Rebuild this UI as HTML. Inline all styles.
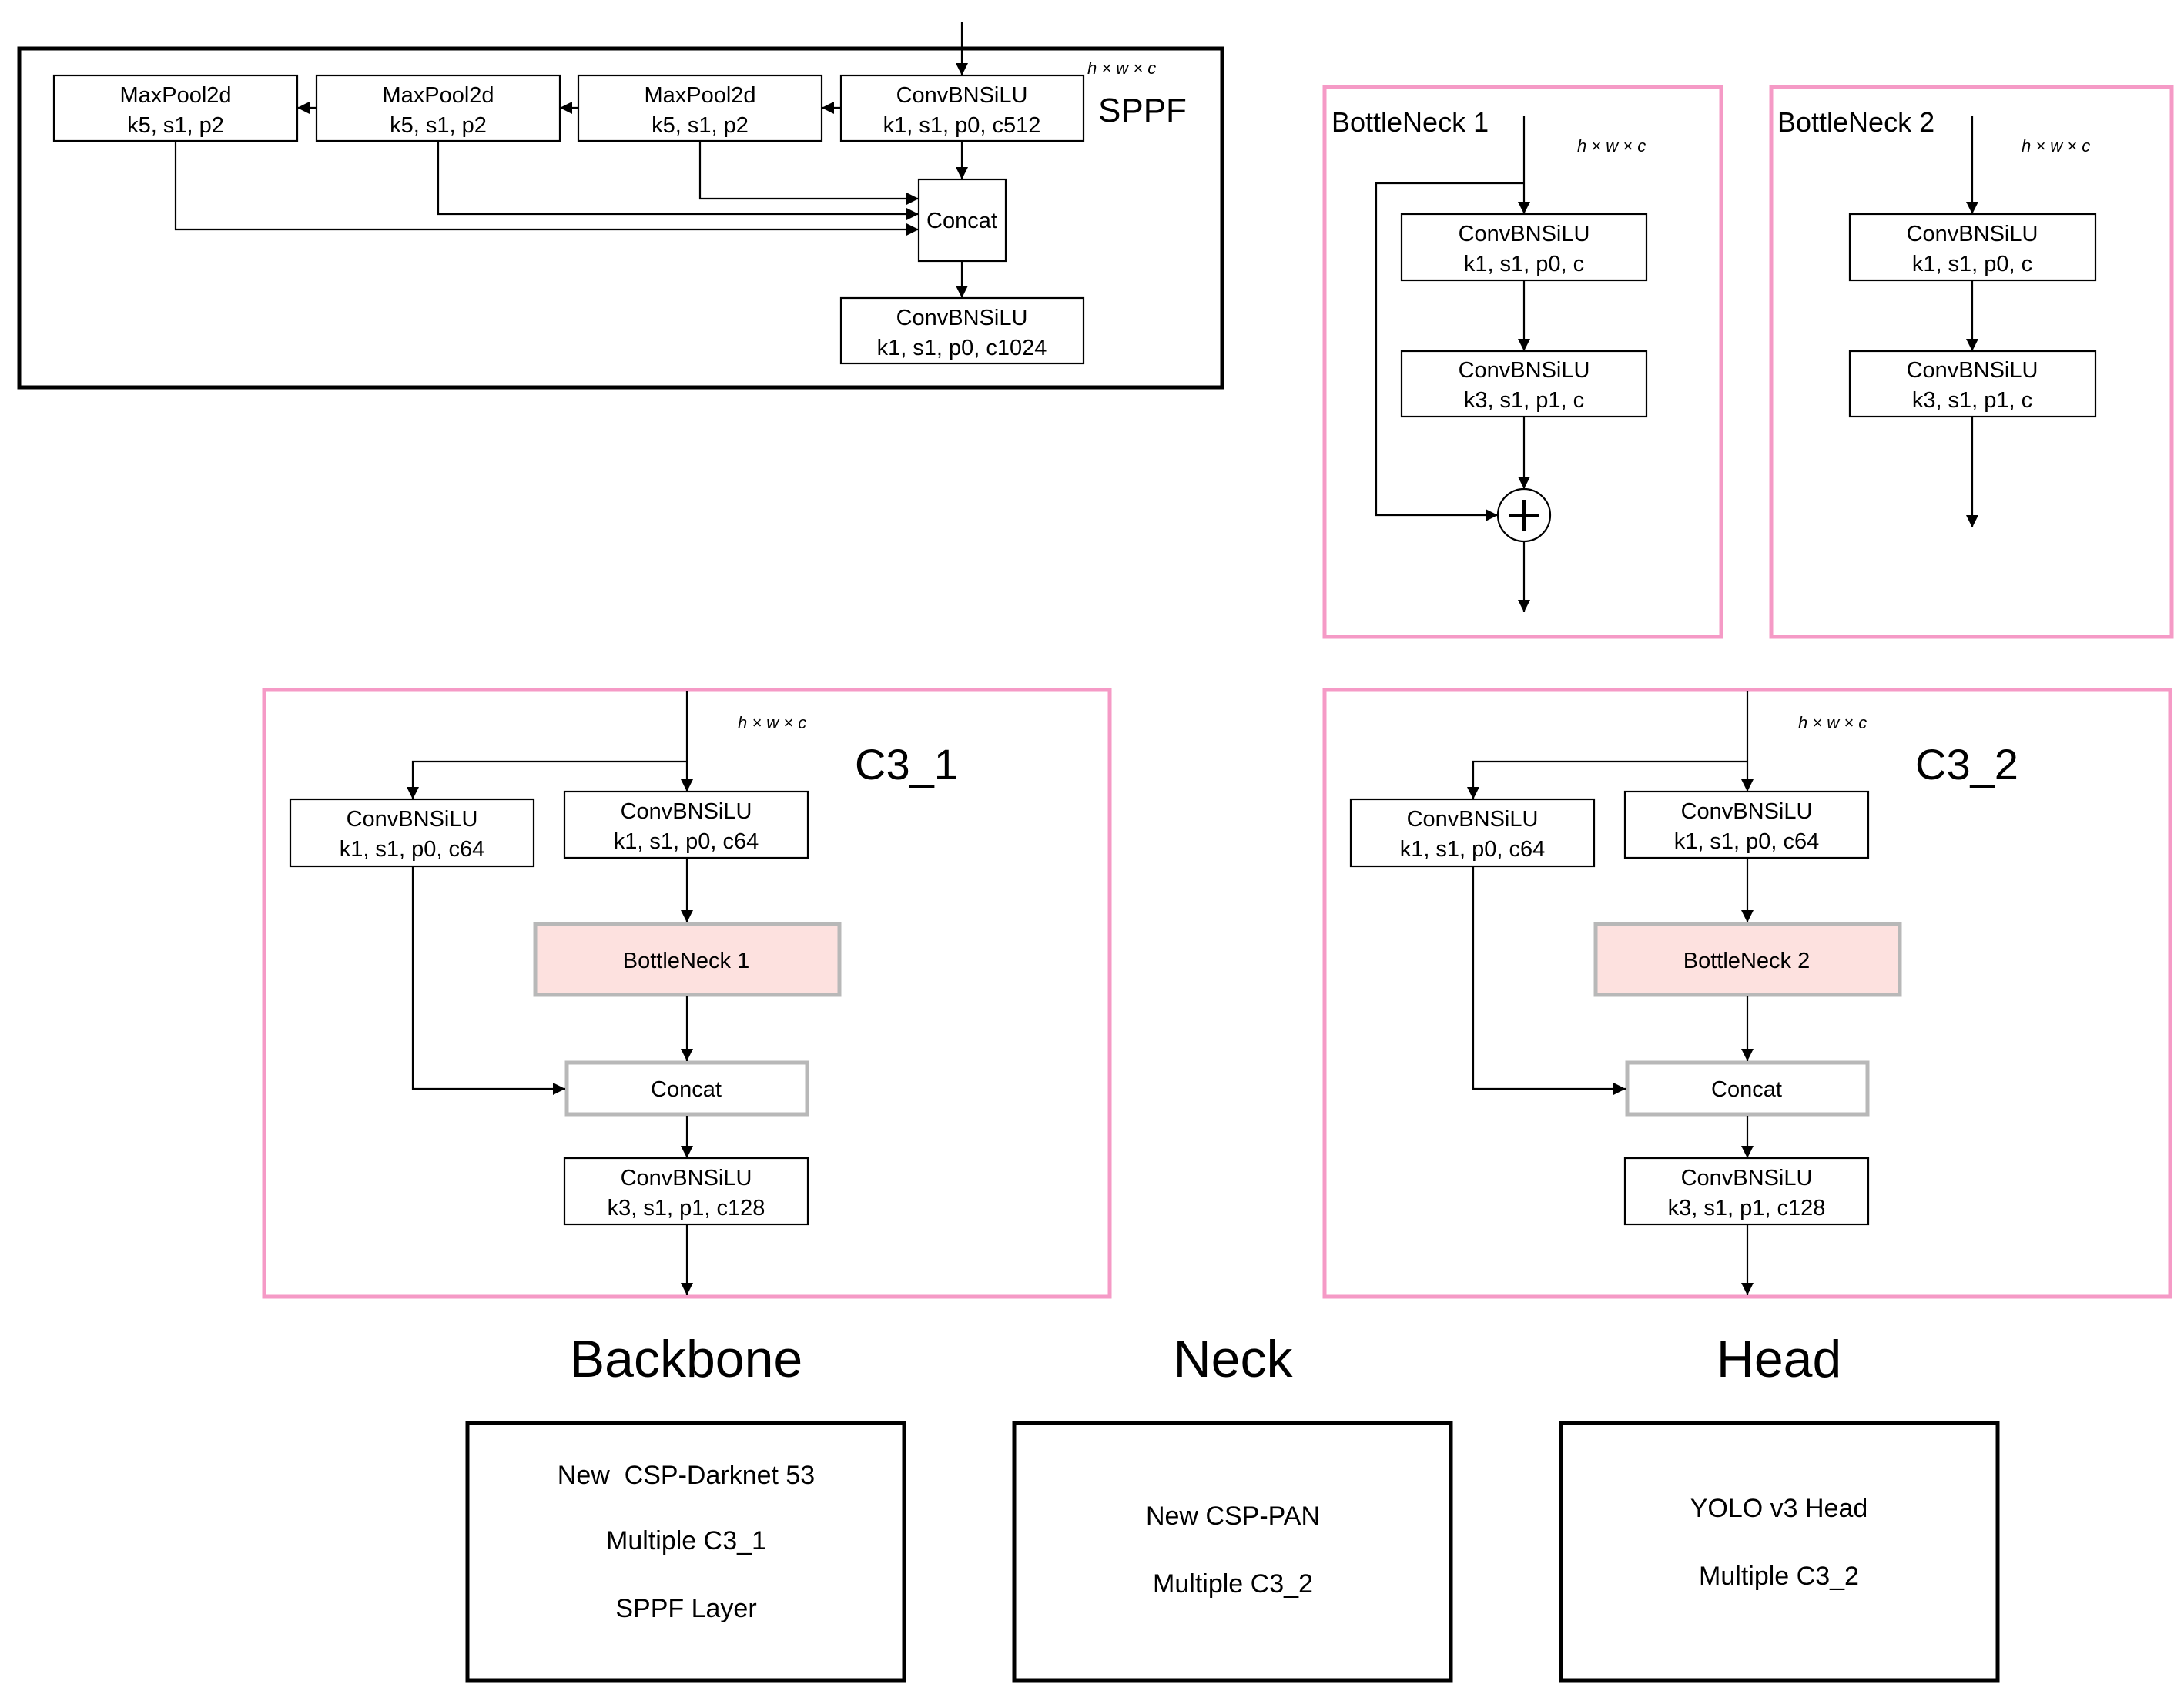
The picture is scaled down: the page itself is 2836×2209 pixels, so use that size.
<!DOCTYPE html>
<html><head><meta charset="utf-8"><style>
html,body{margin:0;padding:0;background:#fff}
svg{display:block}
text{font-family:"Liberation Sans",Arial,sans-serif;fill:#000}
</style></head><body>
<svg width="2836" height="2209" viewBox="0 0 2836 2209" xmlns="http://www.w3.org/2000/svg">
<defs>
<marker id="a" viewBox="0 0 10 10" refX="10" refY="5" markerWidth="16" markerHeight="16" markerUnits="userSpaceOnUse" orient="auto"><path d="M0,0 L10,5 L0,10 z" fill="#000"/></marker>
</defs>
<g fill="none" stroke="#000" stroke-width="2.2">
<!-- SPPF -->
<rect x="25" y="63" width="1562" height="440" stroke-width="5"/>
<rect x="70" y="98" width="316" height="85"/>
<rect x="411" y="98" width="316" height="85"/>
<rect x="751" y="98" width="316" height="85"/>
<rect x="1092" y="98" width="315" height="85"/>
<rect x="1193" y="233" width="113" height="106"/>
<rect x="1092" y="387" width="315" height="85"/>
<line x1="1249" y1="28" x2="1249" y2="98" marker-end="url(#a)"/>
<line x1="1092" y1="140" x2="1067" y2="140" marker-end="url(#a)"/>
<line x1="751" y1="140" x2="727" y2="140" marker-end="url(#a)"/>
<line x1="411" y1="140" x2="386" y2="140" marker-end="url(#a)"/>
<line x1="1249" y1="183" x2="1249" y2="233" marker-end="url(#a)"/>
<line x1="1249" y1="339" x2="1249" y2="387" marker-end="url(#a)"/>
<polyline points="909,183 909,258 1193,258" marker-end="url(#a)"/>
<polyline points="569,183 569,278 1193,278" marker-end="url(#a)"/>
<polyline points="228,183 228,298 1193,298" marker-end="url(#a)"/>
</g>
<g font-size="29" text-anchor="middle">
<text x="228" y="133">MaxPool2d</text><text x="228" y="172">k5, s1, p2</text>
<text x="569" y="133">MaxPool2d</text><text x="569" y="172">k5, s1, p2</text>
<text x="909" y="133">MaxPool2d</text><text x="909" y="172">k5, s1, p2</text>
<text x="1249" y="133">ConvBNSiLU</text><text x="1249" y="172">k1, s1, p0, c512</text>
<text x="1249" y="296">Concat</text>
<text x="1249" y="422">ConvBNSiLU</text><text x="1249" y="461">k1, s1, p0, c1024</text>
</g>
<text x="1412" y="96" font-size="22" font-style="italic">h × w × c</text>
<text x="1426" y="158" font-size="44">SPPF</text>

<!-- BottleNeck 1 -->
<g fill="none" stroke-width="2.2" stroke="#000">
<rect x="1720" y="113" width="515" height="714" stroke="#f59ac6" stroke-width="5"/>
<rect x="1820" y="278" width="318" height="86"/>
<rect x="1820" y="456" width="318" height="85"/>
<circle cx="1979" cy="669" r="34"/>
<line x1="1979" y1="151" x2="1979" y2="278" marker-end="url(#a)"/>
<line x1="1979" y1="364" x2="1979" y2="456" marker-end="url(#a)"/>
<line x1="1979" y1="541" x2="1979" y2="635" marker-end="url(#a)"/>
<line x1="1979" y1="703" x2="1979" y2="795" marker-end="url(#a)"/>
<polyline points="1979,238 1787,238 1787,669 1945,669" marker-end="url(#a)"/>
<line x1="1959" y1="669" x2="1999" y2="669" stroke-width="4"/>
<line x1="1979" y1="649" x2="1979" y2="689" stroke-width="4"/>
<!-- BottleNeck 2 -->
<rect x="2300" y="113" width="520" height="714" stroke="#f59ac6" stroke-width="5"/>
<rect x="2402" y="278" width="319" height="86"/>
<rect x="2402" y="456" width="319" height="85"/>
<line x1="2561" y1="151" x2="2561" y2="278" marker-end="url(#a)"/>
<line x1="2561" y1="364" x2="2561" y2="456" marker-end="url(#a)"/>
<line x1="2561" y1="541" x2="2561" y2="685" marker-end="url(#a)"/>
</g>
<text x="1729" y="171" font-size="36">BottleNeck 1</text>
<text x="2308" y="171" font-size="36">BottleNeck 2</text>
<text x="2048" y="197" font-size="22" font-style="italic">h × w × c</text>
<text x="2625" y="197" font-size="22" font-style="italic">h × w × c</text>
<g font-size="29" text-anchor="middle">
<text x="1979" y="313">ConvBNSiLU</text><text x="1979" y="352">k1, s1, p0, c</text>
<text x="1979" y="490">ConvBNSiLU</text><text x="1979" y="529">k3, s1, p1, c</text>
<text x="2561" y="313">ConvBNSiLU</text><text x="2561" y="352">k1, s1, p0, c</text>
<text x="2561" y="490">ConvBNSiLU</text><text x="2561" y="529">k3, s1, p1, c</text>
</g>

<!-- C3 blocks -->
<g id="c3">
<g fill="none" stroke="#000" stroke-width="2.2">
<rect x="343" y="896" width="1098" height="788" stroke="#f59ac6" stroke-width="5"/>
<rect x="377" y="1038" width="316" height="87"/>
<rect x="733" y="1028" width="316" height="86"/>
<rect x="695" y="1200" width="395" height="92" fill="#fde1df" stroke="#b8b8b8" stroke-width="5"/>
<rect x="736" y="1380" width="312" height="67" stroke="#b8b8b8" stroke-width="5"/>
<rect x="733" y="1504" width="316" height="86"/>
<line x1="892" y1="898" x2="892" y2="1028" marker-end="url(#a)"/>
<polyline points="892,989 536,989 536,1038" marker-end="url(#a)"/>
<line x1="892" y1="1114" x2="892" y2="1198" marker-end="url(#a)"/>
<line x1="892" y1="1294" x2="892" y2="1378" marker-end="url(#a)"/>
<polyline points="536,1125 536,1414 734,1414" marker-end="url(#a)"/>
<line x1="892" y1="1449" x2="892" y2="1504" marker-end="url(#a)"/>
<line x1="892" y1="1590" x2="892" y2="1682" marker-end="url(#a)"/>
</g>
<g font-size="29" text-anchor="middle">
<text x="535" y="1073">ConvBNSiLU</text><text x="535" y="1112">k1, s1, p0, c64</text>
<text x="891" y="1063">ConvBNSiLU</text><text x="891" y="1102">k1, s1, p0, c64</text>
<text x="891" y="1257">BottleNeck 1</text>
<text x="891" y="1424">Concat</text>
<text x="891" y="1539">ConvBNSiLU</text><text x="891" y="1578">k3, s1, p1, c128</text>
</g>
<text x="958" y="946" font-size="22" font-style="italic">h × w × c</text>
<text x="1110" y="1012" font-size="56">C3_1</text>
</g>
<g transform="translate(1377,0)">
<g fill="none" stroke="#000" stroke-width="2.2">
<rect x="343" y="896" width="1098" height="788" stroke="#f59ac6" stroke-width="5"/>
<rect x="377" y="1038" width="316" height="87"/>
<rect x="733" y="1028" width="316" height="86"/>
<rect x="695" y="1200" width="395" height="92" fill="#fde1df" stroke="#b8b8b8" stroke-width="5"/>
<rect x="736" y="1380" width="312" height="67" stroke="#b8b8b8" stroke-width="5"/>
<rect x="733" y="1504" width="316" height="86"/>
<line x1="892" y1="898" x2="892" y2="1028" marker-end="url(#a)"/>
<polyline points="892,989 536,989 536,1038" marker-end="url(#a)"/>
<line x1="892" y1="1114" x2="892" y2="1198" marker-end="url(#a)"/>
<line x1="892" y1="1294" x2="892" y2="1378" marker-end="url(#a)"/>
<polyline points="536,1125 536,1414 734,1414" marker-end="url(#a)"/>
<line x1="892" y1="1449" x2="892" y2="1504" marker-end="url(#a)"/>
<line x1="892" y1="1590" x2="892" y2="1682" marker-end="url(#a)"/>
</g>
<g font-size="29" text-anchor="middle">
<text x="535" y="1073">ConvBNSiLU</text><text x="535" y="1112">k1, s1, p0, c64</text>
<text x="891" y="1063">ConvBNSiLU</text><text x="891" y="1102">k1, s1, p0, c64</text>
<text x="891" y="1257">BottleNeck 2</text>
<text x="891" y="1424">Concat</text>
<text x="891" y="1539">ConvBNSiLU</text><text x="891" y="1578">k3, s1, p1, c128</text>
</g>
<text x="958" y="946" font-size="22" font-style="italic">h × w × c</text>
<text x="1110" y="1012" font-size="56">C3_2</text>
</g>

<!-- bottom -->
<g font-size="68" text-anchor="middle">
<text x="891" y="1788">Backbone</text>
<text x="1601" y="1788">Neck</text>
<text x="2310" y="1788">Head</text>
</g>
<g fill="none" stroke="#000" stroke-width="5">
<rect x="607" y="1848" width="567" height="334"/>
<rect x="1317" y="1848" width="567" height="334"/>
<rect x="2027" y="1848" width="567" height="334"/>
</g>
<g font-size="34" text-anchor="middle">
<text x="891" y="1927" xml:space="preserve">New  CSP-Darknet 53</text>
<text x="891" y="2012">Multiple C3_1</text>
<text x="891" y="2100">SPPF Layer</text>
<text x="1601" y="1980">New CSP-PAN</text>
<text x="1601" y="2068">Multiple C3_2</text>
<text x="2310" y="1970">YOLO v3 Head</text>
<text x="2310" y="2058">Multiple C3_2</text>
</g>
</svg>
</body></html>
